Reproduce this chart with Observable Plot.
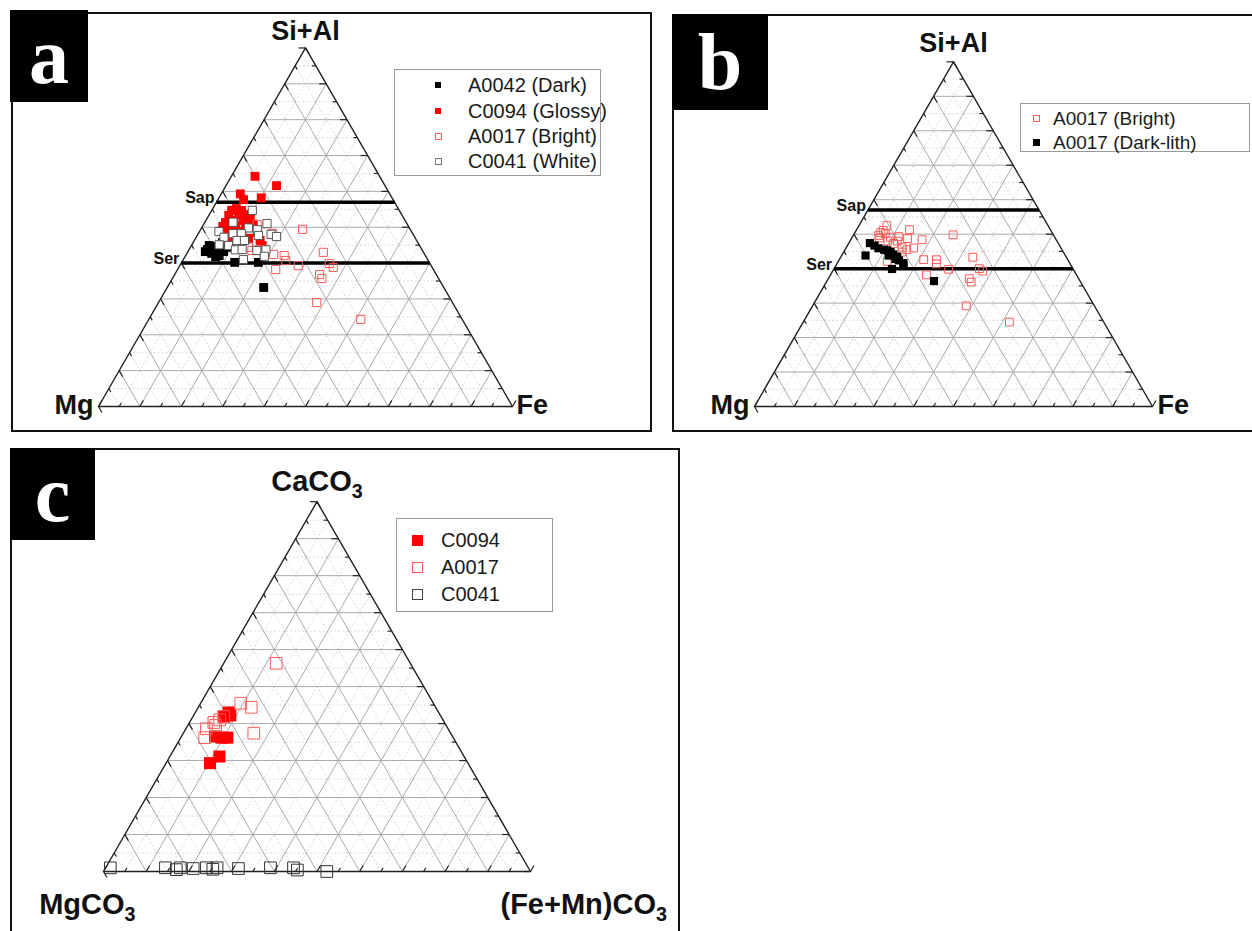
<!DOCTYPE html>
<html><head><meta charset="utf-8">
<script src="https://cdn.jsdelivr.net/npm/d3@7"></script>
<script src="https://cdn.jsdelivr.net/npm/@observablehq/plot@0.6"></script>
<style>
body{margin:0;background:#fff;font-family:"Liberation Sans",Arial,sans-serif;}
#root{position:relative;width:1252px;height:931px;overflow:hidden;background:#fff;}
.plotbox{position:absolute;}
.frame{position:absolute;border:2px solid #111;box-sizing:border-box;}
.tag{position:absolute;background:#000;color:#fff;font-family:"Liberation Serif","Times New Roman",serif;font-weight:bold;display:flex;align-items:center;justify-content:center;line-height:1;}
.legend{position:absolute;border:1px solid #9a9a9a;background:#fff;box-sizing:border-box;}
.legend .mk{position:absolute;box-sizing:border-box;}
.legend .lt{position:absolute;color:#1a1a1a;white-space:nowrap;line-height:1;transform:translateY(-50%);}
</style>
</head><body>
<div id="root"></div>
<script>
// ---------- DATA (ternary compositions, %: [top component, right component]) ----------
// Panel a: top = Si+Al, right = Fe, left = Mg
const aLegend = ["A0042 (Dark)", "C0094 (Glossy)", "A0017 (Bright)", "C0041 (White)"];
const aDark = [[43.8,4.4],[42.7,6.0],[43.2,6.7],[42.1,8.1],[43.2,8.6],[44.4,5.6],[44.9,4.3],[44.6,6.4],[44.4,7.5],[45.2,8.3],[46.0,8.9],[41.8,7.4],[43.2,4.2],[45.7,7.1],[44.4,9.2],[40.2,12.8],[40.2,18.5],[33.2,23.3]];
const aGlossy = [[64.2,5.7],[61.6,12.2],[59.3,4.6],[57.7,6.2],[58.2,10.2],[54.7,4.8],[55.2,5.7],[54.7,7.2],[53.3,4.8],[53.3,7.2],[53.6,8.9],[51.9,6.7],[51.9,9.1],[52.4,10.5],[51.3,5.0],[50.5,7.9],[50.2,10.4],[50.8,12.0],[49.1,6.7],[48.8,9.9],[48.5,14.1],[47.1,8.3],[46.9,12.8],[46.3,15.9],[44.9,17.1],[46.6,7.4],[50.2,4.9]];
const aBright = [[50.8,12.9],[48.3,17.9],[49.4,24.6],[43.5,15.3],[43.8,17.0],[42.4,21.1],[42.1,23.8],[40.7,24.9],[38.2,23.7],[39.3,28.6],[43.0,32.8],[39.9,35.8],[38.8,37.3],[36.8,35.0],[35.7,36.1],[29.0,38.2],[24.3,51.2],[44.4,14.0]];
const aWhite = [[54.7,9.8],[51.0,15.2],[51.4,6.8],[49.8,11.3],[49.3,13.7],[48.8,4.7],[47.2,6.7],[48.2,8.4],[48.2,10.4],[48.0,17.7],[47.4,19.3],[47.7,14.8],[45.1,6.6],[44.9,9.0],[46.3,10.3],[46.3,12.1],[43.7,11.2],[43.8,12.8],[43.5,16.5],[43.7,18.6],[41.0,14.5],[41.9,19.1]];

// Panel b: top = Si+Al, right = Fe, left = Mg
const bLegend = ["A0017 (Bright)", "A0017 (Dark-lith)"];
const bBright = [[52.5,7.0],[51.1,6.8],[49.6,6.4],[50.1,7.8],[48.9,7.0],[49.1,9.6],[49.3,11.6],[51.3,13.3],[48.0,9.5],[48.0,11.9],[48.7,14.1],[48.4,17.9],[49.8,25.0],[46.2,14.0],[46.0,17.0],[45.5,15.5],[44.8,14.7],[42.1,12.3],[42.6,21.2],[42.6,24.4],[41.4,25.0],[43.3,33.2],[39.8,28.9],[38.2,24.1],[40.0,36.5],[39.3,37.7],[37.1,35.4],[36.1,36.4],[29.2,38.6],[24.5,51.8],[47.3,11.3],[50.5,6.5]];
const bDarkLith = [[47.4,5.3],[46.7,6.8],[45.9,8.2],[43.8,6.0],[45.5,9.8],[45.3,10.7],[44.8,11.8],[44.1,12.8],[43.8,11.8],[43.5,14.1],[42.8,14.0],[42.4,15.1],[41.6,16.6],[40.9,17.0],[39.9,14.6],[36.4,26.9]];

// Panel c: top = CaCO3, right = (Fe+Mn)CO3, left = MgCO3
const cLegend = ["C0094", "A0017", "C0041"];
const cC0094 = [[43.0,7.8],[42.2,8.6],[41.9,7.3],[36.5,7.9],[36.2,9.5],[36.2,10.9],[31.1,11.6],[29.3,10.3]];
const cA0017 = [[56.3,12.3],[45.5,9.4],[44.4,12.4],[37.4,16.5],[41.9,7.2],[41.0,6.7],[39.5,6.5],[38.6,4.8],[36.2,5.6],[40.3,5.7]];
const cC0041 = [[1.0,1.1],[1.0,14.0],[0.5,16.8],[1.0,17.5],[0.8,20.6],[1.0,23.6],[0.6,25.3],[1.0,26.1],[0.8,31.2],[1.0,38.6],[1.0,44.0],[0.4,45.2],[0.0,52.3]];

// Vertex labels [top, left, right] and reference lines (Si+Al %)
const abVertices = ["Si+Al", "Mg", "Fe"];
const cVertices = ["CaCO3", "MgCO3", "(Fe+Mn)CO3"];
const refNames = ["Sap", "Ser"];
const refValues = [57, 40];
const gridPercents = d3.range(5, 100, 5);
const tickPercents = d3.range(0, 101, 5);

// ---------- helpers ----------
const H = Math.sqrt(3) / 2;
const tern = ([t, r]) => ({x: r / 100 + t / 200, y: (t / 100) * H});
const seg = (p, q) => { const a = tern(p), b = tern(q); return {x1: a.x, y1: a.y, x2: b.x, y2: b.y}; };
const root = document.getElementById("root");
const FONT = '"Liberation Sans", Arial, sans-serif';

function el(cls, style, html) {
  const d = document.createElement("div");
  d.className = cls;
  Object.assign(d.style, style);
  if (html != null) d.innerHTML = html;
  root.appendChild(d);
  return d;
}

function drawPanel(cfg) {
  const {left, top, width, height, ox, oy, side, series, verts, vlab, refs} = cfg;
  const sx = ox - left, sy = oy - top;
  const grid = [];
  for (const k of gridPercents) {
    const minor = k % 10 !== 0;
    grid.push({...seg([k, 0], [k, 100 - k]), minor});
    grid.push({...seg([0, k], [100 - k, k]), minor});
    grid.push({...seg([0, 100 - k], [100 - k, 0]), minor});
  }
  const ticks = [];
  for (const k of tickPercents) {
    const len = (k % 10 === 0 ? 7 : 4) / side;
    let p = tern([0, k]);
    ticks.push({x1: p.x, y1: p.y, x2: p.x + 0.5 * len, y2: p.y + H * len});
    p = tern([k, 100 - k]);
    ticks.push({x1: p.x, y1: p.y, x2: p.x - len, y2: p.y});
    p = tern([k, 0]);
    ticks.push({x1: p.x, y1: p.y, x2: p.x + 0.5 * len, y2: p.y - H * len});
  }
  const outline = [[100, 0], [0, 0], [0, 100], [100, 0]].map(tern);
  const marks = [
    Plot.link(grid.filter(d => d.minor), {x1: "x1", y1: "y1", x2: "x2", y2: "y2", stroke: "#cfcfcf", strokeWidth: 0.8, strokeDasharray: "2,2"}),
    Plot.link(grid.filter(d => !d.minor), {x1: "x1", y1: "y1", x2: "x2", y2: "y2", stroke: "#aaaaaa", strokeWidth: 1}),
    Plot.line(outline, {x: "x", y: "y", stroke: "#222", strokeWidth: 1.4}),
    Plot.link(ticks, {x1: "x1", y1: "y1", x2: "x2", y2: "y2", stroke: "#222", strokeWidth: 1.2})
  ];
  if (refs) {
    const rl = refValues.map((v, i) => ({...seg([v, 0], [v, 100 - v]), name: refNames[i]}));
    marks.push(Plot.link(rl, {x1: "x1", y1: "y1", x2: "x2", y2: "y2", stroke: "#000", strokeWidth: 3.5}));
    marks.push(Plot.text(rl, {x: "x1", y: "y1", text: "name", textAnchor: "end", dx: -2, dy: -4, fontSize: 16, fontWeight: "bold", fill: "#111"}));
  }
  for (const s of series) {
    marks.push(Plot.dot(s.data.map(tern), {x: "x", y: "y", symbol: "square", r: s.r, fill: s.fill, stroke: s.stroke, strokeWidth: s.sw || 1}));
  }
  const vpos = [[100, 0], [0, 0], [0, 100]];
  verts.forEach((name, i) => {
    const o = vlab[i];
    marks.push(Plot.text([{...tern(vpos[i]), name}], {x: "x", y: "y", text: "name", textAnchor: o.anchor, dx: o.dx, dy: o.dy, fontSize: o.fs, fontWeight: "bold", fill: "#111"}));
  });
  const svg = Plot.plot({
    width, height, margin: 0,
    style: {background: "transparent", fontFamily: FONT, maxWidth: "none", overflow: "visible"},
    x: {domain: [0, 1], range: [sx, sx + side], axis: null},
    y: {domain: [0, H], range: [sy, sy - side * H], axis: null},
    marks
  });
  // subscripts for carbonate labels
  svg.querySelectorAll("text").forEach(t => {
    const s = t.textContent;
    if (/CO3$/.test(s)) {
      t.textContent = s.slice(0, -1);
      const ts = document.createElementNS("http://www.w3.org/2000/svg", "tspan");
      ts.setAttribute("font-size", "0.68em");
      ts.setAttribute("dy", "0.38em");
      ts.textContent = "3";
      t.appendChild(ts);
    }
  });
  const box = el("plotbox", {left: left + "px", top: top + "px", width: width + "px", height: height + "px"});
  box.appendChild(svg);
}

function legend(x, y, w, h, items, styles, rowY, mkX, txtX, fs) {
  const L = el("legend", {left: x + "px", top: y + "px", width: w + "px", height: h + "px"});
  items.forEach((name, i) => {
    const st = styles[i];
    const m = document.createElement("div");
    m.className = "mk";
    Object.assign(m.style, {left: (mkX - st.s / 2) + "px", top: (rowY[i] - st.s / 2) + "px", width: st.s + "px", height: st.s + "px", background: st.fill, border: st.border});
    L.appendChild(m);
    const t = document.createElement("div");
    t.className = "lt";
    Object.assign(t.style, {left: txtX + "px", top: rowY[i] + "px", fontSize: fs + "px"});
    t.textContent = name;
    L.appendChild(t);
  });
}

const RED = "#ff0000", PINK = "#ff5c5c", GRAY = "#555";

// Panel a
drawPanel({
  left: 11, top: 12, width: 641, height: 420, ox: 98, oy: 406, side: 414, refs: true,
  verts: abVertices,
  vlab: [{anchor: "middle", dx: 0, dy: -17, fs: 27}, {anchor: "end", dx: -5, dy: -1, fs: 27}, {anchor: "start", dx: 4, dy: -1, fs: 27}],
  series: [
    {data: aDark, r: 5, fill: "#000", stroke: "none"},
    {data: aGlossy, r: 5, fill: RED, stroke: "none"},
    {data: aBright, r: 4.6, fill: "none", stroke: PINK},
    {data: aWhite, r: 4.6, fill: "#fff", stroke: GRAY}
  ]
});
// Panel b
drawPanel({
  left: 672, top: 14, width: 580, height: 418, ox: 754, oy: 406, side: 398, refs: true,
  verts: abVertices,
  vlab: [{anchor: "middle", dx: 0, dy: -18, fs: 27}, {anchor: "end", dx: -5, dy: -1, fs: 27}, {anchor: "start", dx: 5, dy: -1, fs: 27}],
  series: [
    {data: bBright, r: 4.4, fill: "none", stroke: PINK},
    {data: bDarkLith, r: 4.6, fill: "#000", stroke: "none"}
  ]
});
// Panel c
drawPanel({
  left: 10, top: 448, width: 670, height: 483, ox: 103, oy: 871, side: 427, refs: false,
  verts: cVertices,
  vlab: [{anchor: "middle", dx: 0, dy: -20, fs: 29}, {anchor: "end", dx: 32, dy: 33, fs: 29}, {anchor: "start", dx: -30, dy: 33, fs: 29}],
  series: [
    {data: cC0094, r: 6.8, fill: RED, stroke: "none"},
    {data: cA0017, r: 6.6, fill: "none", stroke: PINK},
    {data: cC0041, r: 6.6, fill: "none", stroke: "#333"}
  ]
});

// frames
el("frame", {left: "11px", top: "12px", width: "641px", height: "420px"});
el("frame", {left: "672px", top: "14px", width: "600px", height: "418px"});
el("frame", {left: "10px", top: "448px", width: "670px", height: "500px"});

// legends
legend(394, 69, 207, 107, aLegend, [
  {s: 6, fill: "#000", border: "none"},
  {s: 6, fill: RED, border: "none"},
  {s: 7, fill: "#fff", border: "1px solid " + PINK},
  {s: 7, fill: "#fff", border: "1px solid #777"}
], [15, 41, 66, 91], 43, 73, 20);
legend(1020, 103, 230, 49, bLegend, [
  {s: 7, fill: "#fff", border: "1px solid " + PINK},
  {s: 7, fill: "#000", border: "none"}
], [14, 38], 15, 32, 19);
legend(396, 518, 157, 94, cLegend, [
  {s: 11, fill: RED, border: "none"},
  {s: 11, fill: "#fff", border: "1px solid " + PINK},
  {s: 11, fill: "#fff", border: "1px solid #444"}
], [21, 48, 75], 20, 44, 20);

// panel tags
el("tag", {left: "10px", top: "10px", width: "78px", height: "92px", fontSize: "80px"}, "a");
el("tag", {left: "672px", top: "14px", width: "96px", height: "96px", fontSize: "80px"}, "b");
el("tag", {left: "10px", top: "448px", width: "85px", height: "92px", fontSize: "80px"}, "c");
</script>
</body></html>
